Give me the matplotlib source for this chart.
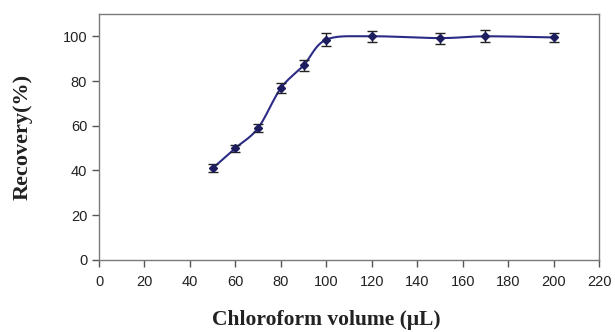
import numpy as np
import matplotlib
matplotlib.use("Agg")
import matplotlib.pyplot as plt

volume = [50, 60, 70, 80, 90, 100, 120, 150, 170, 200]
recovery = [41, 50, 59, 76.8, 87, 98.5, 100, 99.2, 100, 99.5]
error = [1.8, 1.6, 2.0, 2.2, 2.6, 2.8, 2.5, 2.5, 2.6, 2.2]
xticks = list(range(0, 221, 20))
yticks = list(range(0, 101, 20))


def smooth(x, y, n=30):
    # Excel-style smoothed line (Catmull-Rom through the data points)
    x = np.asarray(x, float); y = np.asarray(y, float)
    px = np.concatenate([[x[0]], x, [x[-1]]])
    py = np.concatenate([[y[0]], y, [y[-1]]])
    xs, ys = [], []
    t = np.linspace(0, 1, n)
    for i in range(1, len(px) - 2):
        p0, p1, p2, p3 = [np.array([px[j], py[j]]) for j in (i - 1, i, i + 1, i + 2)]
        c1 = p1 + (p2 - p0) / 6
        c2 = p2 - (p3 - p1) / 6
        b = ((1 - t) ** 3)[:, None] * p1 + (3 * (1 - t) ** 2 * t)[:, None] * c1 + \
            (3 * (1 - t) * t ** 2)[:, None] * c2 + (t ** 3)[:, None] * p2
        xs.extend(b[:, 0]); ys.extend(b[:, 1])
    return xs, ys


fig = plt.figure(figsize=(6.15, 3.32), dpi=100)
ax = fig.add_axes([0.161, 0.217, 0.813, 0.741])

sx, sy = smooth(volume, recovery)
ax.plot(sx, sy, color="#2b2b86", lw=1.5, zorder=2)
ax.errorbar(volume, recovery, yerr=error, fmt="D", ms=4, color="#1c1c5e",
            ecolor="#222222", elinewidth=1.0, capsize=3.5, capthick=1.0, zorder=3)

ax.set_xlim(0, 220)
ax.set_ylim(0, 110)
ax.set_xticks(xticks)
ax.set_yticks(yticks)
for s in ax.spines.values():
    s.set_color("#7a7a7a")
    s.set_linewidth(1.0)
ax.tick_params(direction="out", length=5, width=1, color="#555555",
               labelsize=10.5, labelcolor="#222222")
for lab in ax.get_xticklabels() + ax.get_yticklabels():
    lab.set_fontfamily("Liberation Sans")
ax.tick_params(axis="x", pad=6)

ax.set_xlabel("Chloroform volume (μL)", fontfamily="Liberation Serif",
              fontweight="bold", fontsize=15.5, color="#222222")
ax.xaxis.set_label_coords(0.454, -0.205)
ax.set_ylabel("Recovery(%)", fontfamily="Liberation Serif",
              fontweight="bold", fontsize=16, color="#222222")
ax.yaxis.set_label_coords(-0.132, 0.5)

fig.savefig("out.png", dpi=100)
